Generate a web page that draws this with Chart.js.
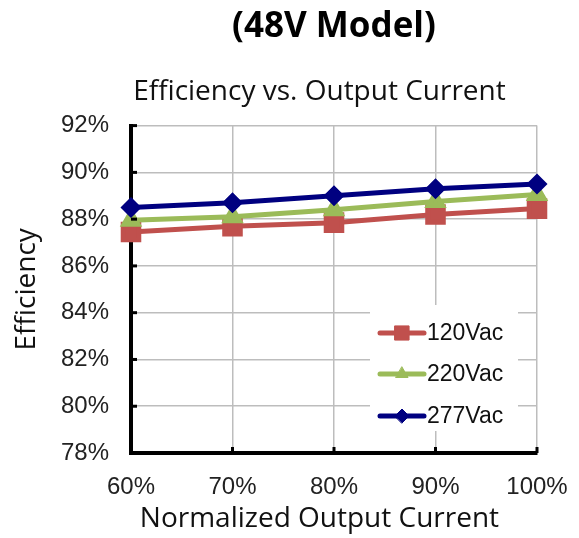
<!DOCTYPE html>
<html>
<head>
<meta charset="utf-8">
<script src="https://cdn.jsdelivr.net/npm/chart.js@4"></script>
<style>
  html, body { margin: 0; padding: 0; background: #fff; }
  #wrap { width: 579px; height: 538px; }
</style>
</head>
<body>
<div id="wrap"><canvas id="effChart" width="579" height="538"></canvas></div>
<script>
// load points (normalized output current)
const loadLabels = ["60%", "70%", "80%", "90%", "100%"];

// efficiency in %
const eff120 = [87.45, 87.7, 87.85, 88.2, 88.45];
const eff220 = [87.95, 88.1, 88.4, 88.75, 89.05];
const eff277 = [88.5, 88.7, 89.0, 89.3, 89.5];

const seriesNames = ["120Vac", "220Vac", "277Vac"];

const TITLE_FONT = "'Open Sans', sans-serif";
const TICK_FONT = "'Liberation Sans', Arial, sans-serif";

// legend drawn inside the plot, bottom right (white box over grid)
const insideLegend = {
  id: "insideLegend",
  afterDatasetsDraw(chart) {
    const { ctx, chartArea } = chart;
    ctx.save();
    ctx.fillStyle = "#fff";
    ctx.fillRect(chartArea.right - 167, chartArea.bottom - 148, 148, 126);

    const rowY = [333, 374, 416];
    chart.data.datasets.forEach((ds, i) => {
      const y = rowY[i];
      ctx.strokeStyle = ds.borderColor;
      ctx.lineWidth = 5;
      ctx.lineCap = "round";
      ctx.beginPath();
      ctx.moveTo(380, y);
      ctx.lineTo(424, y);
      ctx.stroke();
      ctx.fillStyle = ds.borderColor;
      ctx.lineWidth = 1;
      Chart.helpers.drawPoint(ctx, {
        pointStyle: ds.pointStyle,
        radius: ds.pointStyle === "rect" ? 10 : 7,
        borderWidth: 1,
        rotation: 0
      }, 402, y);
      ctx.fillStyle = "#111";
      ctx.font = "23px " + TICK_FONT;
      ctx.textBaseline = "middle";
      ctx.textAlign = "left";
      ctx.fillText(seriesNames[i], 427, y + 1);
    });

    // small inward tick marks on the black axes
    ctx.strokeStyle = "#000";
    ctx.lineWidth = 3;
    ctx.lineCap = "butt";
    const ys = chart.scales.y;
    for (let v = 78; v <= 92; v += 2) {
      const py = ys.getPixelForValue(v);
      ctx.beginPath();
      ctx.moveTo(chartArea.left, py);
      ctx.lineTo(chartArea.left + 6, py);
      ctx.stroke();
    }
    const xs = chart.scales.x;
    loadLabels.forEach((l, i) => {
      const px = xs.getPixelForValue(i);
      ctx.beginPath();
      ctx.moveTo(px, chartArea.bottom);
      ctx.lineTo(px, chartArea.bottom - 6);
      ctx.stroke();
    });
    ctx.restore();
  }
};

const ctx = document.getElementById("effChart").getContext("2d");
new Chart(ctx, {
  type: "line",
  data: {
    labels: loadLabels,
    datasets: [
      {
        label: seriesNames[0],
        data: eff120,
        borderColor: "#c0504d",
        backgroundColor: "#c0504d",
        pointBackgroundColor: "#c0504d",
        pointBorderColor: "#c0504d",
        pointStyle: "rect",
        pointRadius: 11,
        borderWidth: 5,
        order: 3
      },
      {
        label: seriesNames[1],
        data: eff220,
        borderColor: "#9bbb59",
        backgroundColor: "#9bbb59",
        pointBackgroundColor: "#9bbb59",
        pointBorderColor: "#9bbb59",
        pointStyle: "triangle",
        pointRadius: 8,
        borderWidth: 5,
        order: 2
      },
      {
        label: seriesNames[2],
        data: eff277,
        borderColor: "#000080",
        backgroundColor: "#000080",
        pointBackgroundColor: "#000080",
        pointBorderColor: "#000080",
        pointStyle: "rectRot",
        pointRadius: 7,
        borderWidth: 5,
        order: 1
      }
    ]
  },
  options: {
    responsive: false,
    animation: false,
    layout: { padding: { left: 10, right: 42, top: 6, bottom: 2 } },
    plugins: {
      legend: { display: false },
      tooltip: { enabled: false },
      title: {
        display: true,
        text: "(48V Model)",
        fullSize: false,
        color: "#000",
        font: { family: TITLE_FONT, size: 35, weight: "bold" },
        padding: { top: 0, bottom: 27 }
      },
      subtitle: {
        display: true,
        text: "Efficiency vs. Output Current    ",
        fullSize: false,
        color: "#111",
        font: { family: TITLE_FONT, size: 28 },
        padding: { top: 0, bottom: 17 }
      }
    },
    scales: {
      x: {
        type: "category",
        offset: false,
        afterFit(s) {
          s.height = 83;
          s.paddingLeft = 0;
          s.paddingRight = 0;
        },
        grid: { color: "#bdbdbd", lineWidth: 1.5, drawTicks: false },
        border: { color: "#000", width: 4 },
        ticks: { color: "#222", font: { family: TICK_FONT, size: 24 }, padding: 20, maxRotation: 0 },
        title: {
          display: true,
          text: "Normalized Output Current    ",
          color: "#111",
          font: { family: TITLE_FONT, size: 28 },
          padding: { top: 0, bottom: 0 }
        }
      },
      y: {
        min: 78,
        max: 92,
        afterFit(s) { s.width = 121; },
        grid: { color: "#bdbdbd", lineWidth: 1.5, drawTicks: false },
        border: { color: "#000", width: 4 },
        ticks: {
          stepSize: 2,
          color: "#222",
          font: { family: TICK_FONT, size: 24 },
          padding: 22,
          callback: (v) => v + "%"
        },
        title: {
          display: true,
          text: "Efficiency",
          color: "#111",
          font: { family: TITLE_FONT, size: 28 },
          padding: { top: 0, bottom: 0 }
        }
      }
    }
  },
  plugins: [insideLegend]
});
</script>
</body>
</html>
